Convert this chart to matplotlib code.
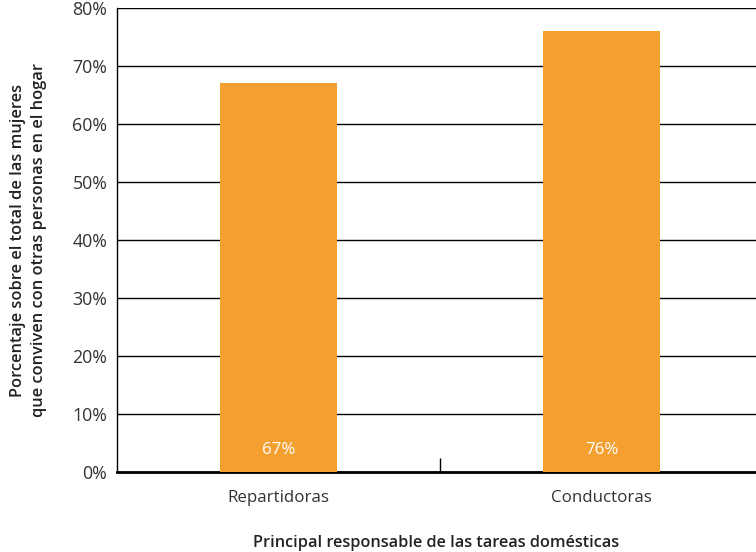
import numpy as np
import matplotlib.pyplot as plt

categorias = ['Repartidoras', 'Conductoras']
porcentajes = [67, 76]
ticks_y = [0, 10, 20, 30, 40, 50, 60, 70, 80]

plt.rcParams['font.family'] = ['Open Sans', 'DejaVu Sans']

fig = plt.figure(figsize=(7.56, 5.52), dpi=100)
ax = fig.add_axes([117 / 756, 80 / 552, (756 - 117) / 756, 464 / 552])

x = np.arange(len(categorias))
bars = ax.bar(x, porcentajes, width=0.362, color='#F4A031', zorder=3)

for xi, v in zip(x, porcentajes):
    ax.text(xi, 3.8, f'{v}%', ha='center', va='center', color='white', fontsize=12.2, zorder=4)

ax.set_xlim(-0.5, 1.478)
ax.set_ylim(0, 80)
ax.set_yticks(ticks_y)
ax.set_yticklabels([f'{t}%' for t in ticks_y], fontsize=12.8, color='#333333')
ax.yaxis.grid(True, color='black', linewidth=1)
ax.set_axisbelow(True)

# categories labelled without ticks; ticks sit between groups
ax.set_xticks(x)
ax.set_xticklabels(categorias, fontsize=12.2, color='#333333')
ax.tick_params(axis='x', length=0, pad=13)
ax.set_xticks([0.5], minor=True)
ax.tick_params(axis='x', which='minor', direction='in', length=10, width=1, color='black')
ax.tick_params(axis='y', length=0, pad=7)

for s in ['top', 'right']:
    ax.spines[s].set_visible(False)
ax.spines['left'].set_linewidth(1)
ax.spines['bottom'].set_linewidth(2)

ax.set_ylabel('Porcentaje sobre el total de las mujeres\nque conviven con otras personas en el hogar',
              fontsize=11.8, color='#222222', fontweight='semibold', labelpad=18, linespacing=1.4)
ax.set_xlabel('Principal responsable de las tareas domésticas',
              fontsize=11.7, color='#222222', fontweight='semibold', labelpad=20.5)

fig.savefig('out.png', dpi=100)
